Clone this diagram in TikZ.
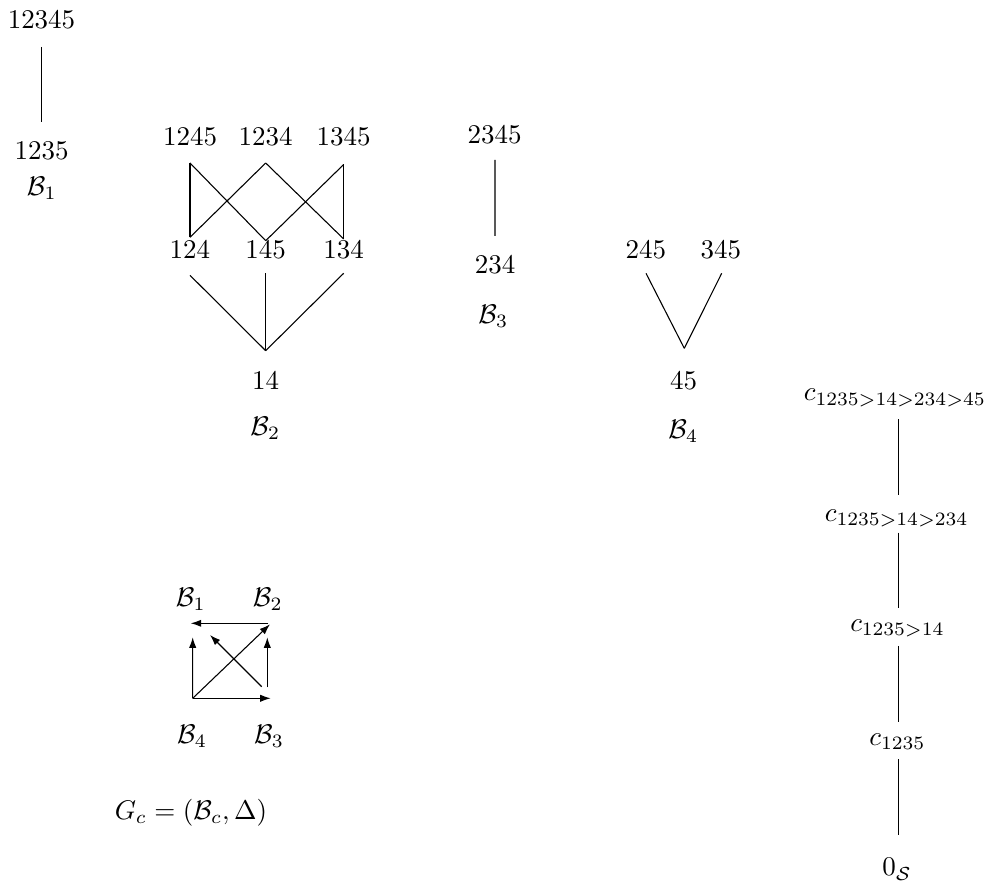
\documentclass[tikz,border=0pt]{standalone}
\usetikzlibrary{calc,arrows.meta}
\begin{document}
\begin{tikzpicture}[x=0.37037pt,y=-0.37037pt,
  lbl/.style={inner sep=0pt,anchor=base},
  bl/.style={inner sep=0pt,anchor=center},
  arr/.style={-{Latex[length=3.9pt,width=2.7pt]}}]
\useasboundingbox (0,0) rectangle (986,881);
% B1
\node[lbl] (a1) at (41.5,29) {12345};
\node[lbl] (a2) at (41.5,160) {1235};
\node[bl] (B1) at (41.7,188.5) {$\mathcal{B}_1$};
\draw ($(a1.base)+(0,18)$) -- ($(a2.base)+(0,-38)$);
% B2
\node[lbl] (b1245) at (190,146) {1245};
\node[lbl] (b1234) at (265.7,146) {1234};
\node[lbl] (b1345) at (343.7,146) {1345};
\node[lbl] (b124) at (190,258.3) {124};
\node[lbl] (b145) at (265.7,258.3) {145};
\node[lbl] (b134) at (343.7,258.3) {134};
\node[lbl] (b14) at (265.7,389.3) {14};
\node[bl] (B2) at (265.3,428.5) {$\mathcal{B}_2$};
\draw ($(b1245.base)+(0,17)$) -- ($(b124.base)+(0,-21)$);
\draw ($(b1245.base)+(0,17)$) -- ($(b145.base)+(0,-17.6)$);
\draw ($(b1234.base)+(0,17)$) -- ($(b124.base)+(0,-21)$);
\draw ($(b1234.base)+(0,17)$) -- ($(b134.base)+(0,-19.3)$);
\draw ($(b1345.base)+(0,18.5)$) -- ($(b145.base)+(0,-17.6)$);
\draw ($(b1345.base)+(0,18.5)$) -- ($(b134.base)+(0,-19.3)$);
\draw ($(b124.base)+(0,17)$) -- ($(b14.base)+(0,-38.6)$);
\draw ($(b145.base)+(0,15)$) -- ($(b14.base)+(0,-38.6)$);
\draw ($(b134.base)+(0,15)$) -- ($(b14.base)+(0,-38.6)$);
% B3
\node[lbl] (c2345) at (494.5,143.3) {2345};
\node[lbl] (c234) at (495,273.3) {234};
\node[bl] (B3) at (493.3,316.7) {$\mathcal{B}_3$};
\draw ($(c2345.base)+(0.5,16.7)$) -- ($(c234.base)+(0,-37.3)$);
% B4
\node[lbl] (d245) at (645.8,259) {245};
\node[lbl] (d345) at (720.8,259) {345};
\node[lbl] (d45) at (683.7,389.3) {45};
\node[bl] (B4) at (683.3,431.7) {$\mathcal{B}_4$};
\draw ($(d245.base)+(0.2,14.3)$) -- ($(d45.base)+(0.6,-41)$);
\draw ($(d345.base)+(0.9,14.3)$) -- ($(d45.base)+(0.6,-41)$);
% chain
\node[lbl] (e1) at (895,401) {$c_{1235>14>234>45}$};
\node[lbl] (e2) at (896.7,521.5) {$c_{1235>14>234}$};
\node[lbl] (e3) at (897.5,631.5) {$c_{1235>14}$};
\node[lbl] (e4) at (897.5,745.5) {$c_{1235}$};
\node[lbl] (e5) at (897,876) {$0_{\mathcal{S}}$};
\draw ($(e1.base)+(3.3,18.3)$) -- ($(e2.base)+(1.6,-26.5)$);
\draw ($(e2.base)+(1.6,11.2)$) -- ($(e3.base)+(0.8,-23.2)$);
\draw ($(e3.base)+(0.8,14.5)$) -- ($(e4.base)+(0.8,-23.8)$);
\draw ($(e4.base)+(0.8,13.8)$) -- ($(e5.base)+(1.3,-41)$);
% G_c
\node[bl] (g1) at (190.8,599.5) {$\mathcal{B}_1$};
\node[bl] (g2) at (267.8,599.5) {$\mathcal{B}_2$};
\node[bl] (g4) at (192,736.7) {$\mathcal{B}_4$};
\node[bl] (g3) at (269,736.7) {$\mathcal{B}_3$};
\draw[arr] ($(g2)+(0.5,23.8)$) -- ($(g1)+(-0.1,23.8)$);
\draw[arr] ($(g4)+(0.7,-38.4)$) -- ($(g1)+(1.9,37.8)$);
\draw[arr] ($(g3)+(-1.7,-49.4)$) -- ($(g2)+(-0.5,37.8)$);
\draw[arr] ($(g4)+(0.7,-38.4)$) -- ($(g2)+(2.2,24.8)$);
\draw[arr] ($(g3)+(-7.3,-50)$) -- ($(g1)+(19.2,35.5)$);
\draw[arr] ($(g4)+(0.7,-38.4)$) -- ($(g3)+(1.7,-38.4)$);
\node[lbl] (G) at (191,819.3) {$G_c=(\mathcal{B}_c,\Delta)$};
\end{tikzpicture}
\end{document}
